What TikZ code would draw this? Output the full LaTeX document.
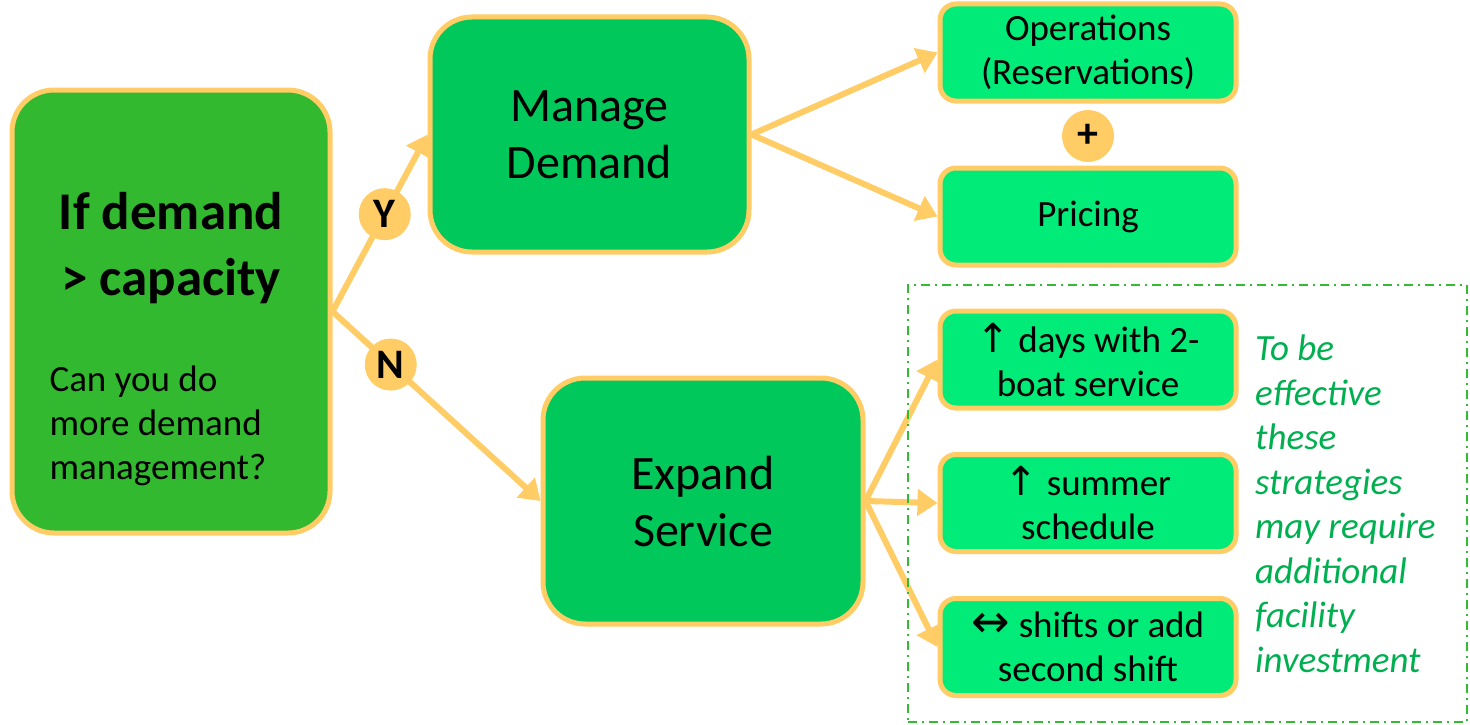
\documentclass[tikz,border=0pt]{standalone}
\usepackage{fontspec}
\setmainfont{Carlito}
\newfontfamily\symfont{DejaVu Sans}
\usetikzlibrary{arrows.meta}
\definecolor{bordc}{HTML}{FFCC66}
\definecolor{leftg}{HTML}{33B92F}
\definecolor{midg}{HTML}{00C85A}
\definecolor{brightg}{HTML}{00EB78}
\definecolor{notegreen}{HTML}{00B050}
\definecolor{dashg}{HTML}{33BB33}
\newcommand{\arrsym}[2]{{\symfont\fontsize{#1}{#1}\selectfont #2}}
\tikzset{
  bigbox/.style={draw=bordc, line width=5pt, rounded corners=42pt, inner sep=0pt, align=center},
  smallbox/.style={draw=bordc, line width=5pt, rounded corners=16pt, fill=brightg, minimum width=296pt, minimum height=97pt, inner sep=0pt, align=center, font=\fontsize{37}{44}\selectfont},
  arr/.style={draw=bordc, line width=6pt, -{Triangle[length=20pt,width=26pt]}},
  circ/.style={circle, fill=bordc, minimum size=52pt, inner sep=0pt, font=\fontsize{42}{42}\selectfont\bfseries}
}
\begin{document}
\begin{tikzpicture}[x=1pt,y=-1pt]
\useasboundingbox (0,0) rectangle (1470,725);
% main boxes
\node[bigbox, fill=leftg, minimum width=318pt, minimum height=443pt] (L) at (171,311.5) {};
\node[align=center, font=\fontsize{53}{66}\selectfont\bfseries] (Ltitle) at (171,248) {If demand\\> capacity};
\node[anchor=west, align=left, font=\fontsize{37}{44}\selectfont] (Lq) at (46,426) {Can you do\\more demand\\management?};
\node[bigbox, fill=midg, minimum width=319pt, minimum height=235pt, font=\fontsize{48}{57}\selectfont] (MD) at (589.5,134.5) {Manage\\Demand};
\node[bigbox, fill=midg, minimum width=320pt, minimum height=246pt, font=\fontsize{48}{57}\selectfont] (ES) at (703,501) {Expand\\Service};
% small boxes
\node[smallbox] (Ops) at (1088,52.5) {\raisebox{0pt}[0pt][0pt]{}Operations\\(Reservations)};
\node[smallbox] (Pr) at (1088,216.5) {Pricing};
\node[smallbox] (Days) at (1088,359.5) {\arrsym{40}{↑} days with 2-\\boat service};
\node[smallbox] (Sum) at (1088,503) {\arrsym{40}{↑} summer\\schedule};
\node[smallbox] (Sh) at (1088,647) {\arrsym{46}{↔} shifts or add\\second shift};
\node[circ] (plus) at (1088,136) {+};
% connectors
\draw[arr] (L.east) -- node[circ, pos=0.55] (Y) {Y} (MD.west);
\draw[arr] (L.east) -- node[circ, pos=0.28] (N) {N} (ES.west);
\draw[arr] (MD.east) -- (Ops.west);
\draw[arr] (MD.east) -- (Pr.west);
\draw[arr] (ES.east) -- (Days.west);
\draw[arr] (ES.east) -- (Sum.west);
\draw[arr] (ES.east) -- (Sh.west);
% dashed frame and note
\node[draw=dashg, line width=1.5pt, dash pattern=on 9pt off 5pt on 2pt off 5pt, minimum width=559pt, minimum height=437pt, inner sep=0pt] (frame) at (1187.5,503.5) {};
\node[anchor=north west, align=left, text=notegreen, inner sep=0pt, font=\fontsize{37}{44.5}\selectfont\itshape] (note) at (1255,335) {To be\\effective\\these\\strategies\\may require\\additional\\facility\\investment};
\end{tikzpicture}
\end{document}
